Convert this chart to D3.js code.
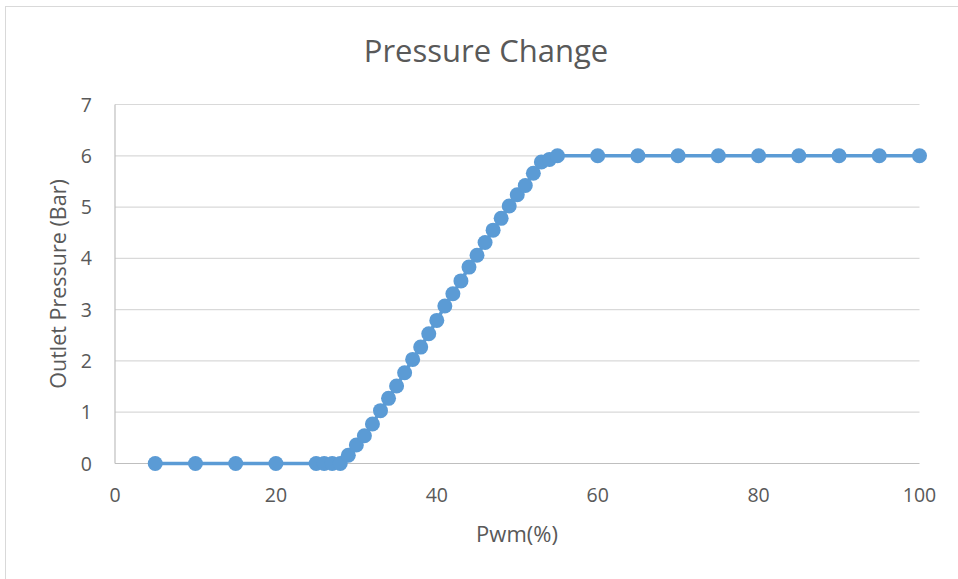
<!DOCTYPE html>
<html>
<head>
<meta charset="utf-8">
<script src="https://cdn.jsdelivr.net/npm/d3@7"></script>
<style>
  body { margin: 0; background: #fff; }
  svg { display: block; font-family: "Open Sans", Lato, sans-serif; }
</style>
</head>
<body>
<svg id="chart" width="958" height="579"></svg>
<script>
// -----------------------------
// Data
// -----------------------------
const pwm = [5, 10, 15, 20, 25, 26, 27, 28, 29, 30, 31, 32, 33, 34, 35, 36, 37, 38, 39, 40,
  41, 42, 43, 44, 45, 46, 47, 48, 49, 50, 51, 52, 53, 54, 55, 60, 65, 70, 75, 80, 85, 90, 95, 100];
const pressure = [0, 0, 0, 0, 0, 0, 0, 0, 0.16, 0.36, 0.54, 0.77, 1.03, 1.27, 1.51, 1.77, 2.03, 2.27, 2.53, 2.79,
  3.07, 3.31, 3.56, 3.83, 4.06, 4.31, 4.55, 4.78, 5.02, 5.24, 5.42, 5.66, 5.88, 5.93, 6.0, 6, 6, 6, 6, 6, 6, 6, 6, 6];
const xTicks = [0, 20, 40, 60, 80, 100];
const yTicks = [0, 1, 2, 3, 4, 5, 6, 7];

const points = pwm.map((x, i) => ({ x, y: pressure[i] }));

// -----------------------------
// Layout
// -----------------------------
const svg = d3.select("#chart");
const plotLeft = 115, plotRight = 919.5, plotTop = 104.5, plotBottom = 463.5;

const x = d3.scaleLinear().domain([0, 100]).range([plotLeft, plotRight]);
const y = d3.scaleLinear().domain([0, 7]).range([plotBottom, plotTop]);

// chart border
svg.append("rect")
  .attr("x", 5.5).attr("y", 6.5)
  .attr("width", 960).attr("height", 600)
  .attr("fill", "none")
  .attr("stroke", "#d9d9d9");

// title
svg.append("text")
  .attr("x", 486).attr("y", 62)
  .attr("text-anchor", "middle")
  .style("font-size", "31px")
  .style("fill", "#595959")
  .text("Pressure Change");

// gridlines
svg.append("g")
  .selectAll("line")
  .data(yTicks.filter((d) => d > 0))
  .join("line")
  .attr("x1", plotLeft).attr("x2", plotRight)
  .attr("y1", (d) => y(d)).attr("y2", (d) => y(d))
  .attr("stroke", "#d9d9d9")
  .attr("stroke-width", 1.2);

// axis lines
svg.append("line")
  .attr("x1", plotLeft).attr("x2", plotRight)
  .attr("y1", plotBottom).attr("y2", plotBottom)
  .attr("stroke", "#bfbfbf").attr("stroke-width", 1.2);
svg.append("line")
  .attr("x1", plotLeft).attr("x2", plotLeft)
  .attr("y1", plotTop).attr("y2", plotBottom)
  .attr("stroke", "#bfbfbf").attr("stroke-width", 1.2);

// tick labels
svg.append("g")
  .selectAll("text")
  .data(yTicks)
  .join("text")
  .attr("x", 92).attr("y", (d) => y(d) + 7)
  .attr("text-anchor", "end")
  .style("font-size", "19.5px")
  .style("fill", "#595959")
  .text((d) => d);

svg.append("g")
  .selectAll("text")
  .data(xTicks)
  .join("text")
  .attr("x", (d) => x(d)).attr("y", 502)
  .attr("text-anchor", "middle")
  .style("font-size", "19.5px")
  .style("fill", "#595959")
  .text((d) => d);

// axis titles
svg.append("text")
  .attr("x", 517).attr("y", 542)
  .attr("text-anchor", "middle")
  .style("font-size", "22px")
  .style("fill", "#595959")
  .text("Pwm(%)");

svg.append("text")
  .attr("transform", `translate(66,${(plotTop + plotBottom) / 2}) rotate(-90)`)
  .attr("text-anchor", "middle")
  .style("font-size", "21.5px")
  .style("fill", "#595959")
  .text("Outlet Pressure (Bar)");

// series
const line = d3.line().x((d) => x(d.x)).y((d) => y(d.y));

svg.append("path")
  .datum(points)
  .attr("d", line)
  .attr("fill", "none")
  .attr("stroke", "#5b9bd5")
  .attr("stroke-width", 3.5)
  .attr("stroke-linejoin", "round");

svg.append("g")
  .selectAll("circle")
  .data(points)
  .join("circle")
  .attr("cx", (d) => x(d.x))
  .attr("cy", (d) => y(d.y))
  .attr("r", 7.5)
  .attr("fill", "#5b9bd5");
</script>
</body>
</html>
